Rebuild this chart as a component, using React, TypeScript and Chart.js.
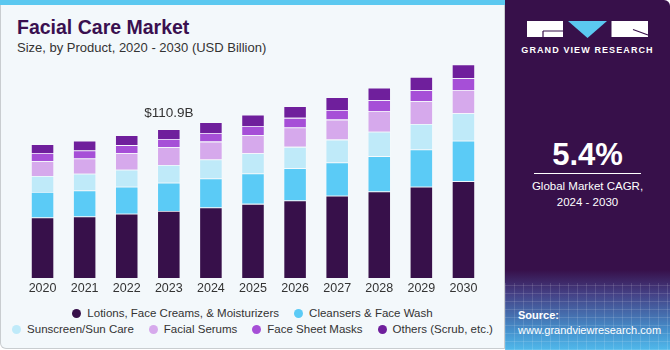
import React, { useEffect, useRef } from "react";
import { Chart, registerables } from "chart.js";

Chart.register(...registerables);

const years = ["2020", "2021", "2022", "2023", "2024", "2025", "2026", "2027", "2028", "2029", "2030"];
const seriesNames = [
  "Lotions, Face Creams, & Moisturizers",
  "Cleansers & Face Wash",
  "Sunscreen/Sun Care",
  "Facial Serums",
  "Face Sheet Masks",
  "Others (Scrub, etc.)",
];
const lotions = [45.1, 45.9, 47.9, 50.0, 52.6, 55.3, 57.8, 61.3, 64.5, 68.0, 72.2];
const cleansers = [19.1, 19.4, 20.1, 21.1, 21.6, 22.6, 24.1, 24.8, 26.4, 27.8, 30.1];
const sunscreen = [11.9, 12.4, 12.7, 13.2, 14.1, 15.2, 15.9, 17.1, 18.1, 19.1, 20.6];
const serums = [10.9, 11.4, 12.4, 13.2, 13.4, 13.4, 14.4, 14.9, 15.6, 16.9, 17.3];
const masks = [6.2, 6.0, 6.0, 6.2, 6.5, 6.9, 7.2, 7.2, 8.0, 8.2, 8.7];
const others = [6.5, 7.2, 7.4, 7.2, 8.0, 8.4, 8.7, 9.5, 9.2, 9.9, 10.4];
const seriesColors = ["#37104a", "#5bcbf6", "#bfeaf9", "#d6a9ec", "#a64fd7", "#6f1f9c"];
const annotationIndex = 3;
const annotationText = "$110.9B";

const FONT = "'Liberation Sans', Arial, sans-serif";

const labelPlugin = {
  id: "totalLabel",
  afterDatasetsDraw(chart: any) {
    const last = chart.data.datasets.length - 1;
    const meta = chart.getDatasetMeta(last);
    const el = meta.data[annotationIndex];
    if (!el) return;
    const ctx = chart.ctx;
    ctx.save();
    ctx.font = `13.5px ${FONT}`;
    ctx.fillStyle = "#333333";
    ctx.textAlign = "center";
    ctx.textBaseline = "alphabetic";
    ctx.fillText(annotationText, el.x, el.y - 12);
    ctx.restore();
  },
};

export default function App() {
  const canvasRef = useRef<HTMLCanvasElement | null>(null);

  useEffect(() => {
    if (!canvasRef.current) return;
    const data = [lotions, cleansers, sunscreen, serums, masks, others];
    const chart = new Chart(canvasRef.current, {
      type: "bar",
      data: {
        labels: years,
        datasets: data.map((d, i) => ({
          label: seriesNames[i],
          data: d,
          backgroundColor: seriesColors[i],
          borderColor: "rgba(255,255,255,0.35)",
          borderWidth: 0.8,
          barPercentage: 0.55,
          categoryPercentage: 1,
        })),
      },
      options: {
        animation: false,
        responsive: false,
        maintainAspectRatio: false,
        layout: { padding: { left: 21.5, right: 20.5, top: 50, bottom: 1 } },
        plugins: { legend: { display: false }, tooltip: { enabled: false } },
        scales: {
          x: {
            stacked: true,
            grid: { display: false, drawTicks: false },
            border: { display: false },
            ticks: { color: "#333333", font: { size: 12.5, family: FONT }, padding: 3 },
          },
          y: {
            stacked: true,
            display: false,
            min: 0,
            max: 170,
          },
        },
      },
      plugins: [labelPlugin],
    });
    return () => chart.destroy();
  }, []);

  const legendItem = (i: number) => (
    <div key={i} style={{ display: "flex", alignItems: "center", marginRight: i === 1 || i === 5 ? 0 : 15 }}>
      <span
        style={{
          width: 9,
          height: 9,
          borderRadius: "50%",
          background: seriesColors[i],
          display: "inline-block",
          marginRight: 6,
        }}
      />
      <span>{seriesNames[i]}</span>
    </div>
  );

  return (
    <div
      style={{
        position: "fixed",
        left: 0,
        top: 0,
        width: 670,
        height: 350,
        fontFamily: FONT,
        overflow: "hidden",
        background: "#ffffff",
      }}
    >
      {/* left panel */}
      <div
        style={{
          position: "absolute",
          left: 0,
          top: 0,
          width: 505,
          height: 349,
          background: "#f3f8fb",
          borderLeft: "1.5px solid #c9cdd0",
          borderBottom: "1.5px solid #c9cdd0",
          borderRight: "1px solid #c9cdd0",
          borderBottomLeftRadius: 6,
          boxSizing: "border-box",
        }}
      />
      <div style={{ position: "absolute", left: 0, top: 0, width: 505, height: 5, background: "#5bc8f0" }} />
      <div
        style={{
          position: "absolute",
          left: 17,
          top: 16,
          fontSize: 19.5,
          fontWeight: 700,
          color: "#3a1050",
          whiteSpace: "nowrap",
        }}
      >
        Facial Care Market
      </div>
      <div style={{ position: "absolute", left: 17, top: 40, fontSize: 13, color: "#333333", whiteSpace: "nowrap" }}>
        Size, by Product, 2020 - 2030 (USD Billion)
      </div>
      <canvas
        ref={canvasRef}
        width={505}
        height={300}
        style={{ position: "absolute", left: 0, top: 0, width: 505, height: 300 }}
      />
      {/* legend */}
      <div
        style={{
          position: "absolute",
          left: 0,
          top: 305,
          width: 505,
          fontSize: 11.5,
          color: "#333333",
          whiteSpace: "nowrap",
        }}
      >
        <div style={{ display: "flex", justifyContent: "center", height: 16, alignItems: "center" }}>
          {[0, 1].map(legendItem)}
        </div>
        <div style={{ display: "flex", justifyContent: "center", height: 16, alignItems: "center" }}>
          {[2, 3, 4, 5].map(legendItem)}
        </div>
      </div>
      {/* right panel */}
      <div
        style={{
          position: "absolute",
          left: 505,
          top: 0,
          width: 165,
          height: 350,
          background: "#37104a",
          borderTopRightRadius: 6,
          overflow: "hidden",
        }}
      >
        <div
          style={{
            position: "absolute",
            left: 0,
            top: 270,
            width: 165,
            height: 80,
            background:
              "linear-gradient(180deg, rgba(55,16,74,1) 0%, rgba(70,70,140,0.9) 30%, rgba(70,150,210,0.95) 75%, rgba(80,185,235,1) 100%)",
          }}
        />
        <div
          style={{
            position: "absolute",
            left: 0,
            top: 283,
            width: 165,
            height: 67,
            backgroundImage:
              "repeating-linear-gradient(90deg, rgba(255,255,255,0.12) 0px, rgba(255,255,255,0.12) 1px, transparent 1px, transparent 9px), repeating-linear-gradient(0deg, rgba(255,255,255,0.12) 0px, rgba(255,255,255,0.12) 1px, transparent 1px, transparent 8px)",
          }}
        />
        <svg width={165} height={60} style={{ position: "absolute", left: 0, top: 0 }}>
          <rect x={22} y={21} width={36} height={16} fill="#ffffff" />
          <path d="M38 31 H58 M38 31 V37" stroke="#37104a" strokeWidth={1.2} fill="none" />
          <polygon points="63,21 102,21 82.5,38" fill="#5bc8f0" />
          <rect x={106.5} y={21} width={36.5} height={16} fill="#ffffff" />
          <path d="M128 29.5 L143 35" stroke="#37104a" strokeWidth={1.2} fill="none" />
        </svg>
        <div
          style={{
            position: "absolute",
            left: 0,
            top: 45,
            width: 165,
            textAlign: "center",
            color: "#ffffff",
            fontSize: 9,
            fontWeight: 700,
            letterSpacing: 1.1,
            whiteSpace: "nowrap",
          }}
        >
          GRAND VIEW RESEARCH
        </div>
        <div
          style={{
            position: "absolute",
            left: 0,
            top: 137,
            width: 165,
            textAlign: "center",
            color: "#ffffff",
            fontSize: 31,
            fontWeight: 700,
          }}
        >
          5.4%
        </div>
        <div style={{ position: "absolute", left: 29, top: 173, width: 107, height: 1, background: "#ffffff" }} />
        <div
          style={{
            position: "absolute",
            left: 0,
            top: 178,
            width: 165,
            textAlign: "center",
            color: "#ffffff",
            fontSize: 11.5,
            lineHeight: "16px",
          }}
        >
          Global Market CAGR,
          <br />
          2024 - 2030
        </div>
        <div
          style={{
            position: "absolute",
            left: 13,
            top: 308,
            color: "#ffffff",
            fontSize: 11,
            lineHeight: "15px",
            whiteSpace: "nowrap",
          }}
        >
          <b>Source:</b>
          <br />
          www.grandviewresearch.com
        </div>
      </div>
    </div>
  );
}
